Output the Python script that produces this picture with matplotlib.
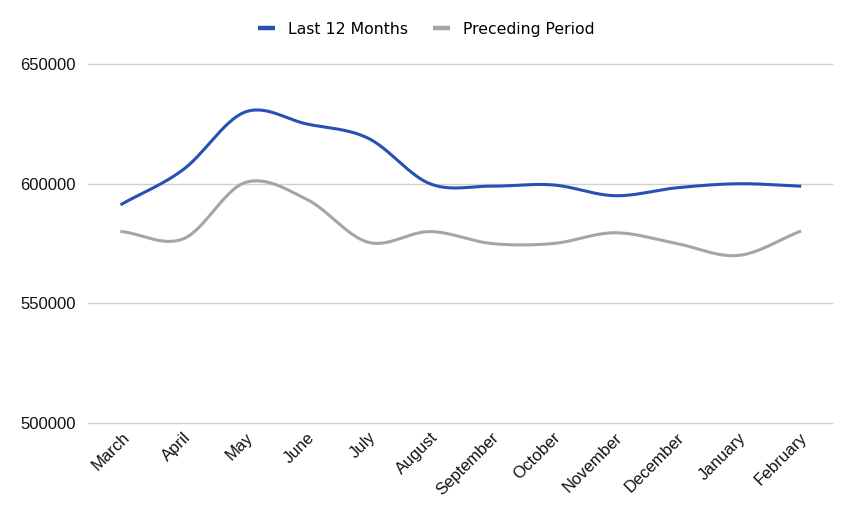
import numpy as np
import matplotlib
matplotlib.use("Agg")
import matplotlib.pyplot as plt

# data
months = ["March", "April", "May", "June", "July", "August", "September",
          "October", "November", "December", "January", "February"]
last_12 = [591500, 606000, 630000, 625000, 619000, 600000, 599000,
           599500, 595000, 598300, 600000, 599000]
preceding = [580000, 577000, 600500, 593500, 575500, 580000, 575000,
             575000, 579500, 575000, 570000, 580000]


def smooth(x, y, n=30):
    # Catmull-Rom curve through the points
    x = np.asarray(x, float)
    y = np.asarray(y, float)
    px = np.concatenate([[2 * x[0] - x[1]], x, [2 * x[-1] - x[-2]]])
    py = np.concatenate([[2 * y[0] - y[1]], y, [2 * y[-1] - y[-2]]])
    xs, ys = [], []
    t = np.linspace(0, 1, n, endpoint=False)
    for i in range(1, len(px) - 2):
        for arr, out in ((px, xs), (py, ys)):
            p0, p1, p2, p3 = arr[i - 1], arr[i], arr[i + 1], arr[i + 2]
            out.extend(0.5 * (2 * p1 + (-p0 + p2) * t
                              + (2 * p0 - 5 * p1 + 4 * p2 - p3) * t ** 2
                              + (-p0 + 3 * p1 - 3 * p2 + p3) * t ** 3))
    xs.append(x[-1])
    ys.append(y[-1])
    return np.array(xs), np.array(ys)


plt.rcParams["font.family"] = ["Liberation Sans", "DejaVu Sans"]

fig = plt.figure(figsize=(8.54, 5.22), dpi=100)
ax = fig.add_axes([0.103, 0.19, 0.871, 0.687])

idx = np.arange(len(months))
bx, by = smooth(idx, last_12)
gx, gy = smooth(idx, preceding)
ax.plot(bx, by, color="#2650b4", lw=2.2, label="Last 12 Months", zorder=3)
ax.plot(gx, gy, color="#a5a5a5", lw=2.2, label="Preceding Period", zorder=2)

ax.set_ylim(500000, 650000)
ax.set_yticks([500000, 550000, 600000, 650000])
ax.set_yticklabels(["500000", "550000", "600000", "650000"])
ax.set_xlim(-0.55, 11.52)
ax.set_xticks(idx)
ax.set_xticklabels(months, rotation=45, ha="right", rotation_mode="anchor")

ax.grid(axis="y", color="#d0d0d0", lw=1)
for gl in ax.get_ygridlines():
    gl.set_clip_on(False)
ax.set_axisbelow(True)
for s in ax.spines.values():
    s.set_visible(False)
ax.tick_params(length=0, labelsize=12, colors="#111111")
ax.tick_params(axis="y", pad=9)
ax.tick_params(axis="x", pad=5)

leg = fig.legend(loc="center", bbox_to_anchor=(0.499, 0.944), ncol=2,
                 frameon=False, handlelength=1.1, columnspacing=1.6,
                 handletextpad=0.8, prop={"family": "DejaVu Sans", "size": 11.3})
for h in leg.get_lines():
    h.set_linewidth(3.2)
    h.set_solid_capstyle("butt")

fig.savefig("out.png", dpi=100)
